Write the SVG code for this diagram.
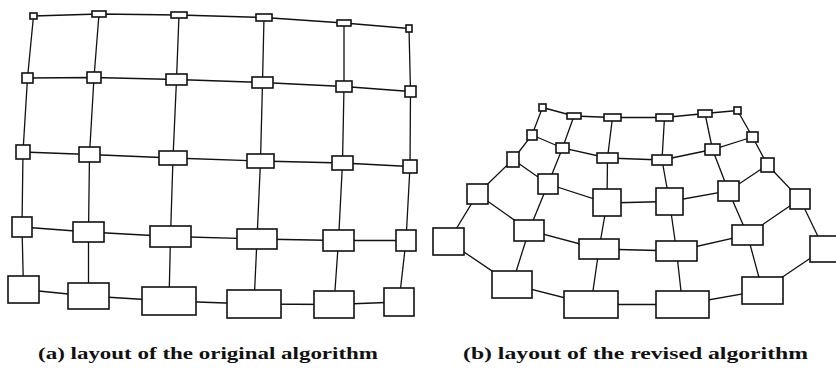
<svg xmlns="http://www.w3.org/2000/svg" width="836" height="372" viewBox="0 0 836 372">
<style>
.e{fill:none;stroke:#111;stroke-width:1.3}
.n rect{fill:#fff;stroke:#111;stroke-width:1.6}
.cap{font-family:"Liberation Serif",serif;font-weight:bold;font-size:16px;fill:#111}
</style>
<rect width="836" height="372" fill="#fff"/>
<g id="connectors">
<polyline class="e" points="33.5,16 99,14 179,15 264,17.5 344,23 409,28.5"/>
<polyline class="e" points="27.5,78 94,77.5 176.5,79.5 262.5,82.5 344,86.5 410.5,91.5"/>
<polyline class="e" points="23,152 89.5,154.5 173,158 260.5,161 342.5,163 410,166.5"/>
<polyline class="e" points="22,227 88.5,232 170.5,236.5 257,239 338.5,240.5 406,240.5"/>
<polyline class="e" points="23.5,289.5 88.5,296 169,301 254,304 334,304.5 399,302"/>
<polyline class="e" points="33.5,16 27.5,78 23,152 22,227 23.5,289.5"/>
<polyline class="e" points="99,14 94,77.5 89.5,154.5 88.5,232 88.5,296"/>
<polyline class="e" points="179,15 176.5,79.5 173,158 170.5,236.5 169,301"/>
<polyline class="e" points="264,17.5 262.5,82.5 260.5,161 257,239 254,304"/>
<polyline class="e" points="344,23 344,86.5 342.5,163 338.5,240.5 334,304.5"/>
<polyline class="e" points="409,28.5 410.5,91.5 410,166.5 406,240.5 399,302"/>
<polyline class="e" points="542.5,107.5 574,116 612.5,117.5 664.5,117.5 705,113.5 737.5,110.5"/>
<polyline class="e" points="532,135 562.5,148 607.5,158 662,160 712.5,149.5 752.5,137"/>
<polyline class="e" points="513,159.5 548,184 607,203 669.5,201.5 728.5,191 767.5,165"/>
<polyline class="e" points="477.5,194 529,230.5 599,249 676.5,251 747.5,235 800,199"/>
<polyline class="e" points="448.5,241.5 512,284.5 591,304.5 682.5,304.5 762.5,290.5 824,249"/>
<polyline class="e" points="542.5,107.5 532,135 513,159.5 477.5,194 448.5,241.5"/>
<polyline class="e" points="574,116 562.5,148 548,184 529,230.5 512,284.5"/>
<polyline class="e" points="612.5,117.5 607.5,158 607,203 599,249 591,304.5"/>
<polyline class="e" points="664.5,117.5 662,160 669.5,201.5 676.5,251 682.5,304.5"/>
<polyline class="e" points="705,113.5 712.5,149.5 728.5,191 747.5,235 762.5,290.5"/>
<polyline class="e" points="737.5,110.5 752.5,137 767.5,165 800,199 824,249"/>
</g>
<g id="a00" class="n"><rect x="30" y="13" width="7" height="6"/></g>
<g id="a01" class="n"><rect x="92" y="11" width="14" height="6"/></g>
<g id="a02" class="n"><rect x="171" y="12" width="16" height="6"/></g>
<g id="a03" class="n"><rect x="256" y="14" width="16" height="7"/></g>
<g id="a04" class="n"><rect x="337" y="20" width="14" height="6"/></g>
<g id="a05" class="n"><rect x="406" y="25" width="6" height="7"/></g>
<g id="a10" class="n"><rect x="22" y="73" width="11" height="10"/></g>
<g id="a11" class="n"><rect x="87" y="72" width="14" height="11"/></g>
<g id="a12" class="n"><rect x="166" y="74" width="21" height="11"/></g>
<g id="a13" class="n"><rect x="252" y="77" width="21" height="11"/></g>
<g id="a14" class="n"><rect x="336" y="81" width="16" height="11"/></g>
<g id="a15" class="n"><rect x="405" y="86" width="11" height="11"/></g>
<g id="a20" class="n"><rect x="16" y="145" width="14" height="14"/></g>
<g id="a21" class="n"><rect x="79" y="147" width="21" height="15"/></g>
<g id="a22" class="n"><rect x="159" y="151" width="28" height="14"/></g>
<g id="a23" class="n"><rect x="247" y="154" width="27" height="14"/></g>
<g id="a24" class="n"><rect x="332" y="156" width="21" height="14"/></g>
<g id="a25" class="n"><rect x="403" y="160" width="14" height="13"/></g>
<g id="a30" class="n"><rect x="12" y="217" width="20" height="20"/></g>
<g id="a31" class="n"><rect x="73" y="222" width="31" height="20"/></g>
<g id="a32" class="n"><rect x="150" y="226" width="41" height="21"/></g>
<g id="a33" class="n"><rect x="237" y="229" width="40" height="20"/></g>
<g id="a34" class="n"><rect x="323" y="230" width="31" height="21"/></g>
<g id="a35" class="n"><rect x="396" y="230" width="20" height="21"/></g>
<g id="a40" class="n"><rect x="8" y="276" width="31" height="27"/></g>
<g id="a41" class="n"><rect x="68" y="283" width="41" height="26"/></g>
<g id="a42" class="n"><rect x="142" y="287" width="54" height="28"/></g>
<g id="a43" class="n"><rect x="227" y="290" width="54" height="28"/></g>
<g id="a44" class="n"><rect x="314" y="291" width="40" height="27"/></g>
<g id="a45" class="n"><rect x="384" y="288" width="30" height="28"/></g>
<g id="b00" class="n"><rect x="539" y="104" width="7" height="7"/></g>
<g id="b01" class="n"><rect x="567" y="113" width="14" height="6"/></g>
<g id="b02" class="n"><rect x="604" y="114" width="17" height="7"/></g>
<g id="b03" class="n"><rect x="656" y="114" width="17" height="7"/></g>
<g id="b04" class="n"><rect x="698" y="110" width="14" height="7"/></g>
<g id="b05" class="n"><rect x="734" y="107" width="7" height="7"/></g>
<g id="b10" class="n"><rect x="527" y="130" width="10" height="10"/></g>
<g id="b11" class="n"><rect x="556" y="143" width="13" height="10"/></g>
<g id="b12" class="n"><rect x="597" y="153" width="21" height="10"/></g>
<g id="b13" class="n"><rect x="652" y="155" width="20" height="10"/></g>
<g id="b14" class="n"><rect x="705" y="144" width="15" height="11"/></g>
<g id="b15" class="n"><rect x="747" y="132" width="11" height="10"/></g>
<g id="b20" class="n"><rect x="507" y="152" width="12" height="15"/></g>
<g id="b21" class="n"><rect x="538" y="174" width="20" height="20"/></g>
<g id="b22" class="n"><rect x="593" y="189" width="28" height="27"/></g>
<g id="b23" class="n"><rect x="656" y="188" width="27" height="27"/></g>
<g id="b24" class="n"><rect x="718" y="181" width="21" height="20"/></g>
<g id="b25" class="n"><rect x="761" y="158" width="13" height="14"/></g>
<g id="b30" class="n"><rect x="467" y="184" width="21" height="20"/></g>
<g id="b31" class="n"><rect x="514" y="220" width="30" height="21"/></g>
<g id="b32" class="n"><rect x="579" y="239" width="40" height="20"/></g>
<g id="b33" class="n"><rect x="656" y="241" width="41" height="20"/></g>
<g id="b34" class="n"><rect x="732" y="225" width="31" height="20"/></g>
<g id="b35" class="n"><rect x="790" y="189" width="20" height="20"/></g>
<g id="b40" class="n"><rect x="433" y="228" width="31" height="27"/></g>
<g id="b41" class="n"><rect x="492" y="271" width="40" height="27"/></g>
<g id="b42" class="n"><rect x="564" y="291" width="54" height="27"/></g>
<g id="b43" class="n"><rect x="656" y="291" width="53" height="27"/></g>
<g id="b44" class="n"><rect x="742" y="277" width="41" height="27"/></g>
<g id="b45" class="n"><rect x="810" y="236" width="28" height="26"/></g>
<text class="cap" x="38" y="359" textLength="340" lengthAdjust="spacingAndGlyphs">(a) layout of the original algorithm</text>
<text class="cap" x="463" y="359" textLength="345" lengthAdjust="spacingAndGlyphs">(b) layout of the revised algorithm</text>
</svg>
